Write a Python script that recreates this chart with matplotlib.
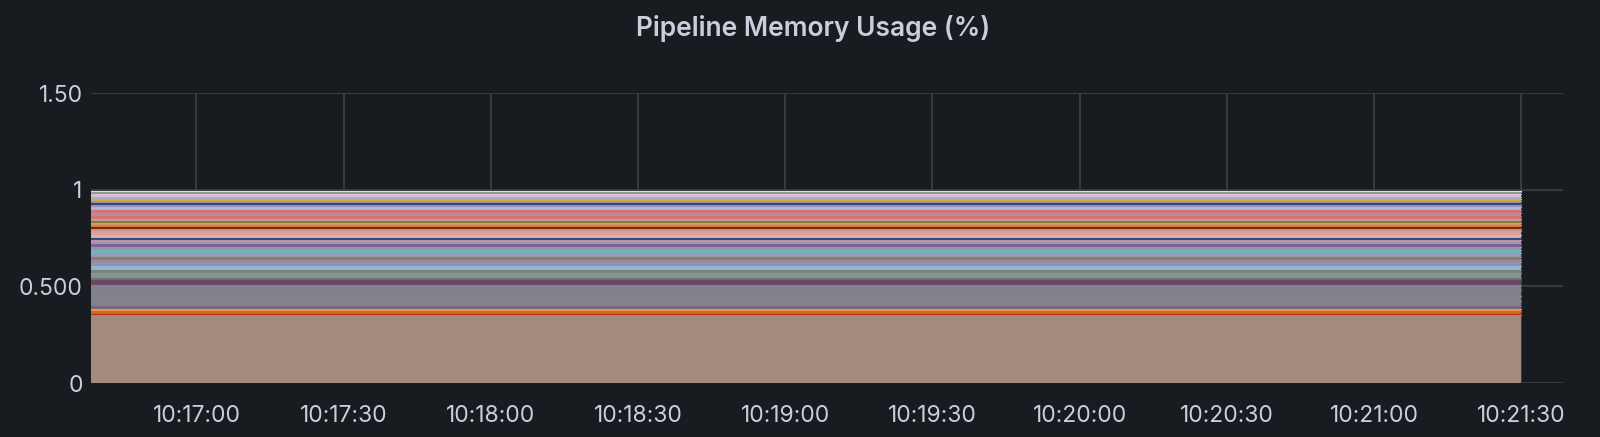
import datetime
import matplotlib
matplotlib.use('agg')
import matplotlib.pyplot as plt
import matplotlib.dates as mdates
import numpy as np

# time window of the panel and of the data
t_start = datetime.datetime(2024, 1, 1, 10, 16, 38, 500000)
t_end = datetime.datetime(2024, 1, 1, 10, 21, 30)
view_end = datetime.datetime(2024, 1, 1, 10, 21, 38, 500000)

tick_times = [datetime.datetime(2024, 1, 1, 10, 17, 0) + datetime.timedelta(seconds=30 * i) for i in range(10)]
tick_labels = ['10:17:00', '10:17:30', '10:18:00', '10:18:30', '10:19:00',
               '10:19:30', '10:20:00', '10:20:30', '10:21:00', '10:21:30']

y_ticks = [0, 0.5, 1.0, 1.5]
y_labels = ['0', '0.500', '1', '1.50']

# memory share of each pipeline, stacked bottom -> top (roughly flat over the window)
series_values = [0.350, 0.0086, 0.012, 0.012, 0.0138,
                 0.028, 0.028, 0.028, 0.028,
                 0.0224, 0.012, 0.026, 0.017, 0.017, 0.021, 0.014, 0.014,
                 0.021, 0.017, 0.014, 0.017, 0.017, 0.012, 0.017, 0.017,
                 0.012, 0.010, 0.010, 0.010, 0.014, 0.010, 0.014, 0.014,
                 0.017, 0.014, 0.014, 0.010, 0.0086, 0.0086, 0.014, 0.014,
                 0.010, 0.007]
series_colors = ['#a38b7b', '#c42a22', '#d2682a', '#dca03c', '#7d6485',
                 '#86808a', '#848290', '#878089', '#7f8294',
                 '#6e4565', '#5f7f60', '#8f9098', '#6f8a7a', '#9fb0cf', '#8797b0', '#9a8b96', '#9f7272',
                 '#95a0ac', '#72b3c8', '#9a96a0', '#7a63a0', '#b494a6', '#2a4d80', '#e0b0b0', '#dfa090',
                 '#b0a090', '#8c1b15', '#e07e40', '#c8a45e', '#8a7a32', '#c49aa4', '#d87272', '#a894a0',
                 '#e07070', '#a6bae0', '#9292c4', '#424272', '#9a9aa0', '#d8b040', '#a4b4c4', '#e0bce0',
                 '#8a9a8a', '#e8dccb']

bg = '#181b1f'
txt = '#ccccdc'
grid = '#3b3e44'

fig = plt.figure(figsize=(16, 4.37), dpi=100, facecolor=bg)
ax = fig.add_axes([91 / 1600, 54 / 437, (1563 - 91) / 1600, (383 - 93) / 437], facecolor=bg)

times = [t_start, t_end]
bottom = 0.0
for val, col in zip(series_values, series_colors):
    top = bottom + val
    ax.fill_between(times, [bottom, bottom], [top, top], color=col, linewidth=0, zorder=2)
    ax.plot(times, [top, top], color=col, linewidth=0.8, zorder=3)
    bottom = top

ax.set_xlim(t_start, view_end)
ax.set_ylim(0, 1.5)
ax.set_xticks(tick_times)
ax.set_xticklabels(tick_labels)
ax.set_yticks(y_ticks)
ax.set_yticklabels(y_labels)
ax.tick_params(colors=txt, length=0, labelsize=16.5)
ax.tick_params(axis='x', pad=16)
ax.tick_params(axis='y', pad=6)
for lbl in ax.get_xticklabels() + ax.get_yticklabels():
    lbl.set_family(['Inter', 'DejaVu Sans'])
    lbl.set_color(txt)
ax.grid(True, color=grid, linewidth=1.3, zorder=1)
ax.set_axisbelow(True)
for s in ax.spines.values():
    s.set_visible(False)

fig.text(813 / 1600, 1 - 28 / 437, 'Pipeline Memory Usage (%)', color=txt, fontsize=19,
         family=['Inter', 'DejaVu Sans'], weight='semibold', ha='center', va='center')

fig.savefig('out.png', dpi=100, facecolor=bg)
